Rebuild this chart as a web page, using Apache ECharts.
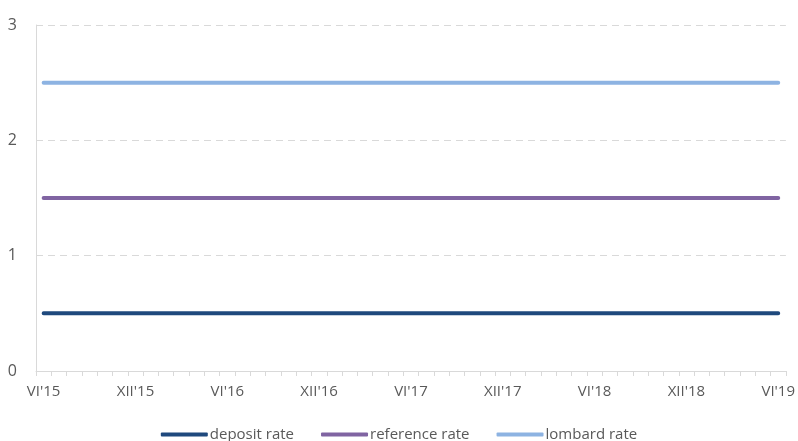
<!DOCTYPE html>
<html>
<head>
<meta charset="utf-8">
<script src="https://cdn.jsdelivr.net/npm/echarts@6/dist/echarts.min.js"></script>
<style>
    html, body { margin: 0; padding: 0; background: #fff; }
    .chart { width: 798px; height: 441px; }
</style>
</head>
<body>
<div class="chart"></div>
<script>
const romanMonths = ['I', 'II', 'III', 'IV', 'V', 'VI', 'VII', 'VIII', 'IX', 'X', 'XI', 'XII']

// VI'15 .. VI'19, monthly
const months = []
for (let y = 15; y <= 19; y++) {
    for (let m = 0; m < 12; m++) {
        if (y === 15 && m < 5) continue
        if (y === 19 && m > 5) continue
        months.push(romanMonths[m] + "'" + y)
    }
}

const depositRate = months.map(() => 0.5)
const referenceRate = months.map(() => 1.5)
const lombardRate = months.map(() => 2.5)

const yTicks = [0, 1, 2, 3];

(function () {
    const myChart = echarts.init(document.querySelector(".chart"))

    const textColor = '#595959'
    const font = "'Open Sans', sans-serif"

    const lineSeries = function (name, data, color) {
        return {
            name: name,
            type: 'line',
            data: data,
            symbol: 'none',
            color: color,
            lineStyle: { width: 4, color: color, cap: 'round' },
            animation: false
        }
    }

    const option = {
        backgroundColor: '#fff',
        grid: {
            left: 36,
            right: 11,
            top: 25,
            bottom: 70
        },
        legend: {
            top: 422,
            left: 'center',
            icon: 'roundRect',
            itemWidth: 47,
            itemHeight: 4,
            itemGap: 27,
            textStyle: { color: textColor, fontSize: 15, fontFamily: font, padding: [0, 0, 0, -3] },
            data: ['deposit rate', 'reference rate', 'lombard rate']
        },
        xAxis: {
            type: 'category',
            data: months,
            boundaryGap: true,
            axisLine: { lineStyle: { color: '#d9d9d9', width: 1 } },
            axisTick: { show: true, interval: 0, length: 5, lineStyle: { color: '#d9d9d9' } },
            axisLabel: {
                interval: 5,
                color: textColor,
                fontSize: 15,
                fontFamily: font,
                margin: 13
            },
            splitLine: { show: false }
        },
        yAxis: {
            type: 'value',
            min: yTicks[0],
            max: yTicks[yTicks.length - 1],
            interval: 1,
            axisLine: { show: true, lineStyle: { color: '#d9d9d9' } },
            axisTick: { show: false },
            axisLabel: { color: textColor, fontSize: 16, fontFamily: font, margin: 19 },
            splitLine: { lineStyle: { color: '#d9d9d9', type: [7, 5] } }
        },
        series: [
            lineSeries('deposit rate', depositRate, '#1f497d'),
            lineSeries('reference rate', referenceRate, '#8064a2'),
            lineSeries('lombard rate', lombardRate, '#8db3e2')
        ]
    }

    myChart.setOption(option)

    window.addEventListener("resize", function () {
        myChart.resize()
    })
})();
</script>
</body>
</html>
